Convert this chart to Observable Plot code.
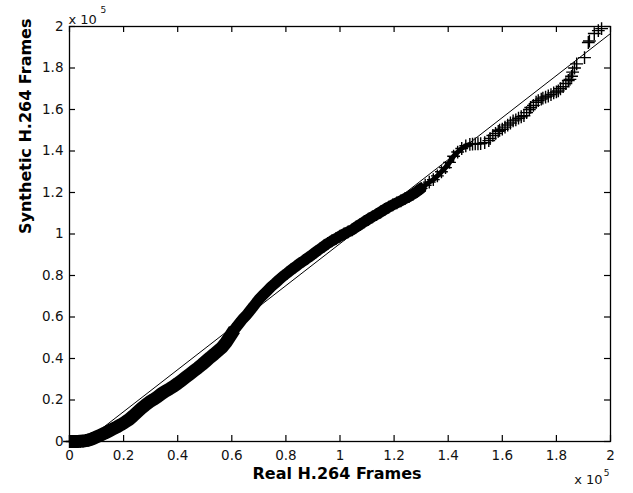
<!DOCTYPE html>
<html>
<head>
<meta charset="utf-8">
<script src="https://cdn.jsdelivr.net/npm/d3@7"></script>
<script src="https://cdn.jsdelivr.net/npm/@observablehq/plot@0.6"></script>
<style>
  html, body { margin: 0; padding: 0; background: #fff; }
  #chart { width: 633px; height: 493px; }
</style>
</head>
<body>
<div id="chart"></div>
<script>
// Values in units of 10^5 frames (as labelled on the axes)
const realFrames = [
  0.000, 0.010, 0.020, 0.030, 0.040, 0.050, 0.060, 0.070, 0.080, 0.090,
  0.100, 0.115, 0.130, 0.145, 0.160, 0.175, 0.190, 0.205, 0.220, 0.235,
  0.250, 0.265, 0.280, 0.295, 0.310, 0.325, 0.340, 0.355, 0.370, 0.385,
  0.400, 0.415, 0.430, 0.445, 0.460, 0.475, 0.490, 0.505, 0.520, 0.535,
  0.550, 0.565, 0.580, 0.595, 0.610, 0.625, 0.640, 0.655, 0.670, 0.685,
  0.700, 0.715, 0.730, 0.745, 0.760, 0.775, 0.790, 0.805, 0.820, 0.835,
  0.850, 0.865, 0.880, 0.895, 0.910, 0.925, 0.940, 0.955, 0.970, 0.985,
  1.000, 1.015, 1.030, 1.045, 1.060, 1.075, 1.090, 1.105, 1.120, 1.135,
  1.150, 1.165, 1.180, 1.195, 1.210, 1.225, 1.240, 1.255, 1.270, 1.285,
  1.300, 1.315, 1.330, 1.345, 1.360, 1.375, 1.390, 1.405, 1.420, 1.435,
  1.450, 1.465, 1.480, 1.490, 1.500, 1.510, 1.520, 1.535, 1.550, 1.555,
  1.565, 1.575, 1.585, 1.590, 1.600, 1.610, 1.620, 1.630, 1.640, 1.650,
  1.660, 1.670, 1.680, 1.690, 1.700, 1.705, 1.715, 1.725, 1.733, 1.744,
  1.750, 1.760, 1.770, 1.780, 1.790, 1.800, 1.807, 1.815, 1.825, 1.835,
  1.844, 1.850, 1.856, 1.860, 1.867, 1.875, 1.904, 1.918, 1.922, 1.940,
  1.955, 1.967
];
const syntheticFrames = [
  0.000, 0.000, 0.000, 0.000, 0.001, 0.002, 0.004, 0.007, 0.011, 0.016,
  0.022, 0.031, 0.040, 0.050, 0.060, 0.070, 0.081, 0.093, 0.106, 0.123,
  0.141, 0.159, 0.175, 0.190, 0.202, 0.215, 0.230, 0.243, 0.254, 0.266,
  0.280, 0.295, 0.310, 0.325, 0.340, 0.355, 0.371, 0.388, 0.405, 0.421,
  0.438, 0.455, 0.480, 0.510, 0.540, 0.565, 0.590, 0.610, 0.635, 0.660,
  0.685, 0.705, 0.725, 0.745, 0.762, 0.780, 0.797, 0.812, 0.828, 0.842,
  0.857, 0.870, 0.884, 0.898, 0.913, 0.927, 0.941, 0.955, 0.967, 0.978,
  0.990, 1.000, 1.010, 1.020, 1.034, 1.046, 1.059, 1.071, 1.083, 1.094,
  1.106, 1.118, 1.130, 1.140, 1.150, 1.160, 1.170, 1.180, 1.192, 1.205,
  1.220, 1.235, 1.250, 1.262, 1.280, 1.300, 1.320, 1.345, 1.375, 1.395,
  1.412, 1.425, 1.432, 1.433, 1.434, 1.435, 1.436, 1.440, 1.450, 1.460,
  1.475, 1.485, 1.495, 1.500, 1.505, 1.515, 1.525, 1.535, 1.545, 1.550,
  1.558, 1.565, 1.570, 1.585, 1.600, 1.610, 1.620, 1.635, 1.643, 1.650,
  1.655, 1.660, 1.665, 1.672, 1.680, 1.685, 1.690, 1.700, 1.710, 1.725,
  1.740, 1.745, 1.760, 1.780, 1.800, 1.820, 1.850, 1.923, 1.930, 1.966,
  1.980, 1.990
];
// Reference line of the Q-Q plot
const refLineX = [0.058, 2.0];
const refLineY = [0.0, 1.966];
// Axis ticks
const xTicks = [0, 0.2, 0.4, 0.6, 0.8, 1, 1.2, 1.4, 1.6, 1.8, 2];
const yTicks = [0, 0.2, 0.4, 0.6, 0.8, 1, 1.2, 1.4, 1.6, 1.8, 2];
const xLabel = "Real H.264 Frames";
const yLabel = "Synthetic H.264 Frames";
const exponentBase = "x 10";
const exponentPower = "5";

const points = realFrames.map((r, i) => ({real: r, synth: syntheticFrames[i]}));
const band1 = points.filter(d => d.real <= 0.61);
const band2 = points.filter(d => d.real >= 0.595 && d.real <= 1.30);
const band3 = points.filter(d => d.real >= 1.285 && d.real <= 1.48);
const refLine = refLineX.map((x, i) => ({x, y: refLineY[i]}));

const W = 633, H = 493, mL = 69, mR = 23, mT = 26, mB = 52;
const innerW = W - mL - mR, innerH = H - mT - mB;
const tickPx = 6;
const tlx = tickPx * 2 / innerW, tly = tickPx * 2 / innerH;
const fmt = d => String(+d.toFixed(1));

const plot = Plot.plot({
  width: W, height: H,
  marginLeft: mL, marginRight: mR, marginTop: mT, marginBottom: mB,
  x: {domain: [0, 2]},
  y: {domain: [0, 2]},
  style: {fontFamily: "DejaVu Sans", fontSize: "13.5px", color: "#111", background: "#fff"},
  marks: [
    Plot.ruleX(xTicks, {x: d => d, y1: 0, y2: tly, stroke: "#000", strokeWidth: 1.2}),
    Plot.ruleX(xTicks, {x: d => d, y1: 2, y2: 2 - tly, stroke: "#000", strokeWidth: 1.2}),
    Plot.ruleY(yTicks, {y: d => d, x1: 0, x2: tlx, stroke: "#000", strokeWidth: 1.2}),
    Plot.ruleY(yTicks, {y: d => d, x1: 2, x2: 2 - tlx, stroke: "#000", strokeWidth: 1.2}),
    Plot.axisX({ticks: xTicks, tickSize: 0, tickPadding: 9, tickFormat: fmt, label: null}),
    Plot.axisY({ticks: yTicks, tickSize: 0, tickPadding: 6, tickFormat: fmt, label: null}),
    Plot.line(refLine, {x: "x", y: "y", stroke: "#000", strokeWidth: 1}),
    Plot.line(band1, {x: "real", y: "synth", stroke: "#000", strokeWidth: 13, strokeLinejoin: "round", strokeLinecap: "butt"}),
    Plot.line(band2, {x: "real", y: "synth", stroke: "#000", strokeWidth: 11, strokeLinejoin: "round", strokeLinecap: "round"}),
    Plot.line(band3, {x: "real", y: "synth", stroke: "#000", strokeWidth: 5, strokeLinejoin: "round", strokeLinecap: "round"}),
    Plot.dot(points, {x: "real", y: "synth", symbol: "plus", r: 4.2, stroke: "#000", strokeWidth: 1.4}),
    Plot.frame({stroke: "#000", strokeWidth: 1.3}),
    Plot.text([xLabel], {frameAnchor: "bottom", dy: 37, dx: -3, fontWeight: "bold", fontSize: 16, fill: "#000"}),
    Plot.text([yLabel], {frameAnchor: "left", dx: -44, rotate: -90, fontWeight: "bold", fontSize: 16, fill: "#000"}),
    Plot.text([exponentBase], {frameAnchor: "top-left", textAnchor: "start", dx: -1, dy: -12, fontSize: 13, fill: "#111"}),
    Plot.text([exponentPower], {frameAnchor: "top-left", textAnchor: "start", dx: 31, dy: -20, fontSize: 9, fill: "#111"}),
    Plot.text([exponentBase], {frameAnchor: "bottom-right", textAnchor: "end", dx: -8, dy: 42, fontSize: 13, fill: "#111"}),
    Plot.text([exponentPower], {frameAnchor: "bottom-right", textAnchor: "end", dx: -1, dy: 34, fontSize: 9, fill: "#111"})
  ]
});
document.getElementById("chart").appendChild(plot);
</script>
</body>
</html>
